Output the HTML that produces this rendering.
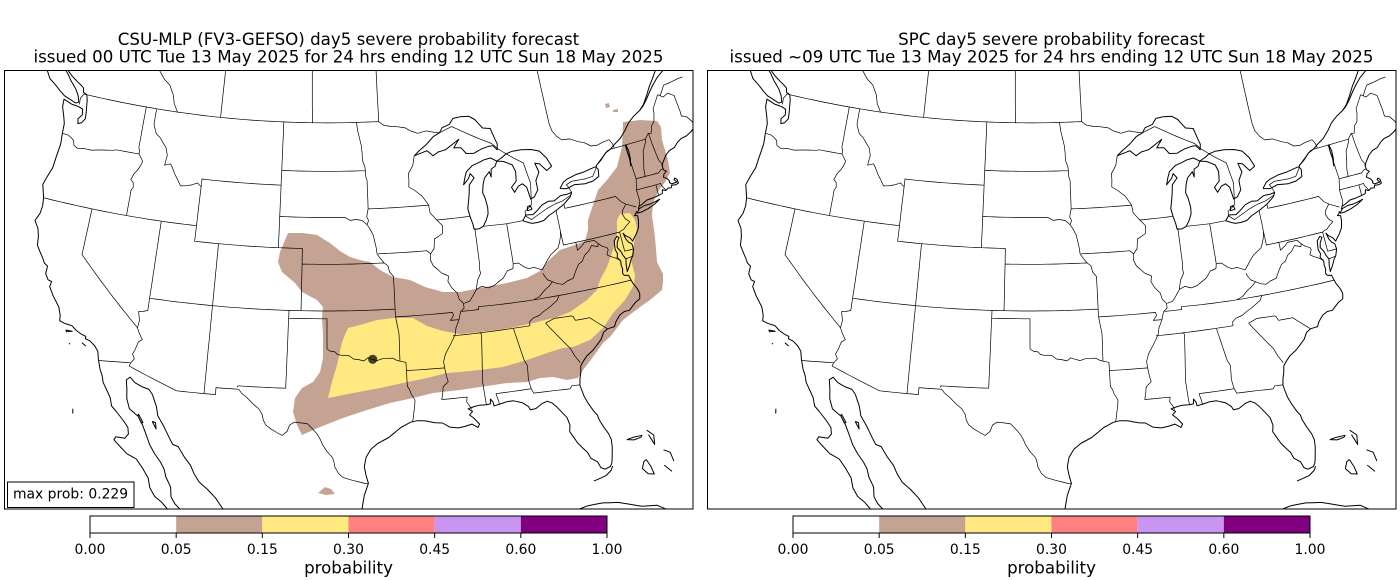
<!DOCTYPE html>
<html><head><meta charset="utf-8"><style>
html,body{margin:0;padding:0;background:#fff;}
svg{display:block;font-family:"DejaVu Sans","Liberation Sans",sans-serif;}
</style></head><body>
<svg id="s" width="1400" height="580" viewBox="0 0 1400 580" xmlns="http://www.w3.org/2000/svg">
<defs>
<clipPath id="cl"><rect x="4" y="70" width="689" height="439"/></clipPath>
<clipPath id="cr"><rect x="707" y="70" width="689" height="439"/></clipPath>
</defs>
<rect width="1400" height="580" fill="#fff"/>
<!-- LEFT PANEL -->
<g clip-path="url(#cl)">
<polygon fill="#c4a393" points="288,233 303,233 317,235 330,243 340,251 350,257 360,260 370,262 380,270 393,277 410,280 425,287 443,292 460,292 480,288 507,283 527,278 540,271 547,262 560,250 572,246 585,241 588,230 588,220 593,205 598,190 607,180 617,167 622,147 623,122 640,120 657,121 661,127 662,140 668,160 670,173 665,182 659,190 653,203 652,216 655,237 657,262 663,274 663,282 662,290 650,300 640,307 623,320 610,337 603,343 593,357 583,370 578,378 567,380 553,377 540,378 527,382 507,383 480,387 460,390 433,393 413,398 390,403 367,410 343,418 320,427 302,435 297,425 293,412 295,398 302,388 313,382 320,372 323,358 323,335 322,318 323,307 317,300 302,292 295,283 282,272 278,262 280,252"/>
<polygon fill="#ffe980" points="348,328 360,325 377,320 393,318 413,318 427,326 443,331 460,334 480,332 510,328 533,323 557,317 570,312 587,300 597,290 600,280 607,267 613,250 617,233 617,220 620,214 630,213 635,220 637,229 634,243 631,260 635,275 634,285 625,300 613,313 603,328 590,340 573,347 563,348 550,352 527,360 503,367 480,370 460,372 447,373 427,378 403,383 380,388 353,393 328,398 332,382 337,365 342,342"/>
<polygon fill="#c4a393" points="318,493 325,487 331,489 335,494 326,495"/>
<polygon fill="#c4a393" points="605,104 609,103 610,107 606,108"/>
<polygon fill="#c4a393" points="613,110 618,109 618,112 613,112"/>
<g id="maplines">
<path id="coast" fill="none" stroke="#000" stroke-width="1" stroke-linejoin="round"/>
<path id="bord" fill="none" stroke="#000" stroke-width="0.7" stroke-linejoin="round"/>
</g>
<circle cx="372.7" cy="359.3" r="4.6" fill="#000" fill-opacity="0.72"/>
</g>
<rect x="4.5" y="70.5" width="688.5" height="438.5" fill="none" stroke="#000" stroke-width="1"/>
<rect x="7.5" y="482" width="126.5" height="25.5" fill="#fff" stroke="#000" stroke-width="1"/>
<text x="13" y="498.5" font-size="13.9">max prob: 0.229</text>
<text x="348.5" y="45" font-size="16.67" text-anchor="middle">CSU-MLP (FV3-GEFSO) day5 severe probability forecast</text>
<text x="348.5" y="62.3" font-size="16.67" text-anchor="middle">issued 00 UTC Tue 13 May 2025 for 24 hrs ending 12 UTC Sun 18 May 2025</text>

<!-- RIGHT PANEL -->
<g clip-path="url(#cr)">
<use href="#maplines" transform="translate(703,0)"/>
</g>
<rect x="707.5" y="70.5" width="688.5" height="438.5" fill="none" stroke="#000" stroke-width="1"/>
<text x="1051.5" y="45" font-size="16.67" text-anchor="middle">SPC day5 severe probability forecast</text>
<text x="1051.5" y="62.3" font-size="16.67" text-anchor="middle">issued ~09 UTC Tue 13 May 2025 for 24 hrs ending 12 UTC Sun 18 May 2025</text>

<!-- COLORBARS -->
<g id="cb1">
<rect x="90" y="516" width="86.17" height="17" fill="#ffffff"/>
<rect x="176.17" y="516" width="86.17" height="17" fill="#c4a393"/>
<rect x="262.33" y="516" width="86.17" height="17" fill="#ffe980"/>
<rect x="348.5" y="516" width="86.17" height="17" fill="#ff8080"/>
<rect x="434.67" y="516" width="86.17" height="17" fill="#c896f0"/>
<rect x="520.83" y="516" width="86.17" height="17" fill="#800080"/>
<rect x="90" y="516" width="517" height="17" fill="none" stroke="#000" stroke-width="1"/>
<g stroke="#000" stroke-width="1">
<line x1="90" y1="533" x2="90" y2="538"/><line x1="176.17" y1="533" x2="176.17" y2="538"/>
<line x1="262.33" y1="533" x2="262.33" y2="538"/><line x1="348.5" y1="533" x2="348.5" y2="538"/>
<line x1="434.67" y1="533" x2="434.67" y2="538"/><line x1="520.83" y1="533" x2="520.83" y2="538"/>
<line x1="607" y1="533" x2="607" y2="538"/>
</g>
<g font-size="13.9" text-anchor="middle">
<text x="90" y="554">0.00</text><text x="176.17" y="554">0.05</text><text x="262.33" y="554">0.15</text>
<text x="348.5" y="554">0.30</text><text x="434.67" y="554">0.45</text><text x="520.83" y="554">0.60</text>
<text x="607" y="554">1.00</text>
</g>
<text x="348.5" y="573.5" font-size="16.67" text-anchor="middle">probability</text>
</g>
<use href="#cb1" transform="translate(703,0)"/>
</svg>
<script>
(function(){
var D=Math.PI/180;
function P(lon,lat){
 var t=Math.tan(Math.PI/4+lat*D/2);
 var r=Math.pow(t,-0.6);
 var th=0.6*(lon+100)*D;
 return [327+1837*r*Math.sin(th), -875.2+1801*r*Math.cos(th)];
}
function dens(l){
 var out=[P(l[0][0],l[0][1])];
 for(var i=1;i<l.length;i++){
  var a=l[i-1][0],b=l[i-1][1],c=l[i][0],d=l[i][1];
  var n=Math.max(1,Math.ceil(Math.max(Math.abs(c-a),Math.abs(d-b))/0.5));
  for(var k=1;k<=n;k++){out.push(P(a+(c-a)*k/n,b+(d-b)*k/n));}
 }
 return out;
}
function toD(ls){
 return ls.map(function(l){return 'M'+dens(l).map(function(p){return p[0].toFixed(1)+' '+p[1].toFixed(1);}).join('L');}).join('');
}
var C=[
[[-123.3,48.42],[-123.55,48.33],[-124.1,48.45],[-124.75,48.6],[-125.2,48.8],[-125.8,49.1],[-126.5,49.4],[-126.9,49.8],[-127.5,50.1],[-128.1,50.5],[-128.4,50.8],[-127.5,50.7],[-126.5,50.5],[-125.5,50.3],[-125.0,50.0],[-124.5,49.6],[-123.9,49.2],[-123.5,48.8],[-123.3,48.42]],
[[-122.75,49.0],[-123.1,49.1],[-123.2,49.35],[-123.5,49.5],[-123.9,49.65],[-124.5,49.9],[-124.9,50.1],[-125.3,50.4],[-126.0,50.6],[-126.6,50.8],[-127.4,51.0],[-127.9,51.3]],
[[-122.75,49.0],[-122.6,48.7],[-122.5,48.3],[-122.4,47.9],[-122.35,47.5],[-122.6,47.2],[-122.9,47.1],[-123.0,47.4],[-122.7,47.7],[-122.8,48.05],[-123.2,48.15],[-123.9,48.2],[-124.7,48.38],[-124.65,47.9],[-124.3,47.3],[-124.1,46.9],[-124.05,46.3],[-123.95,45.6],[-124.05,44.6],[-124.1,44.0],[-124.35,43.4],[-124.55,42.8],[-124.2,42.0],[-124.1,41.5],[-124.15,41.0],[-124.4,40.45],[-124.0,40.0],[-123.8,39.5],[-123.7,38.95],[-123.0,38.2],[-122.8,37.95],[-122.5,37.8],[-122.5,37.3],[-122.2,36.95],[-121.9,36.9],[-121.95,36.55],[-121.5,36.0],[-120.9,35.4],[-120.65,34.9],[-120.6,34.55],[-120.2,34.45],[-119.6,34.4],[-119.2,34.15],[-118.8,34.0],[-118.4,33.9],[-118.4,33.75],[-118.0,33.65],[-117.6,33.4],[-117.3,33.1],[-117.15,32.6],[-116.9,32.0],[-116.65,31.6],[-116.5,31.2],[-116.1,30.7],[-115.8,30.3],[-115.6,29.8],[-115.2,29.5],[-114.6,29.0],[-114.2,28.6],[-114.1,28.2],[-114.3,27.9],[-114.95,27.9],[-115.05,27.7],[-114.5,27.3],[-114.0,26.95],[-113.3,26.7],[-112.8,26.2],[-112.3,25.6],[-112.1,25.0],[-111.7,24.5],[-111.2,24.2],[-110.5,23.6],[-110.0,22.9],[-109.5,23.1],[-109.45,23.5],[-109.8,23.8],[-110.3,24.2],[-110.6,24.6],[-110.7,25.2],[-111.1,25.8],[-111.3,26.3],[-111.6,26.7],[-112.1,27.2],[-112.5,27.7],[-112.9,28.4],[-113.2,28.9],[-113.6,29.4],[-114.3,29.8],[-114.6,30.4],[-114.7,31.0],[-114.85,31.6],[-114.6,31.8],[-114.2,31.5],[-113.6,31.3],[-113.1,31.2],[-112.8,30.9],[-112.4,30.2],[-112.2,29.6],[-111.7,29.0],[-111.2,28.3],[-110.9,27.9],[-110.5,27.8],[-110.0,27.2],[-109.5,26.7],[-109.2,26.2],[-108.8,25.7],[-108.2,25.3],[-107.6,24.8],[-107.0,24.1],[-106.5,23.5],[-106.0,22.9],[-105.6,22.4]],
[[-97.8,22.3],[-97.75,23.0],[-97.7,23.8],[-97.6,24.5],[-97.45,25.2],[-97.15,25.95],[-97.3,26.5],[-97.4,27.0],[-97.25,27.6],[-96.9,28.1],[-96.4,28.45],[-95.6,28.8],[-95.0,29.2],[-94.7,29.4],[-94.0,29.7],[-93.5,29.77],[-92.9,29.72],[-92.2,29.55],[-91.7,29.5],[-91.2,29.2],[-90.6,29.1],[-90.1,29.15],[-89.6,29.25],[-89.2,29.0],[-89.05,29.2],[-89.4,29.6],[-89.7,29.85],[-89.45,30.05],[-89.75,30.25],[-89.3,30.35],[-88.9,30.4],[-88.4,30.37],[-88.1,30.4],[-88.05,30.7],[-87.9,30.5],[-87.85,30.25],[-87.5,30.3],[-86.9,30.4],[-86.4,30.4],[-85.8,30.2],[-85.4,29.9],[-85.3,29.68],[-84.9,29.7],[-84.4,29.95],[-84.0,30.05],[-83.7,29.9],[-83.4,29.6],[-83.1,29.2],[-82.8,28.8],[-82.7,28.3],[-82.8,27.9],[-82.6,27.5],[-82.4,27.1],[-82.1,26.7],[-81.85,26.4],[-81.7,26.0],[-81.3,25.7],[-81.15,25.3],[-80.9,25.15],[-80.5,25.25],[-80.35,25.45],[-80.25,25.8],[-80.1,26.4],[-80.05,26.9],[-80.15,27.3],[-80.4,27.8],[-80.6,28.3],[-80.65,28.6],[-80.85,28.9],[-81.1,29.4],[-81.3,29.9],[-81.4,30.4],[-81.45,30.7],[-81.35,31.1],[-81.2,31.5],[-81.1,31.9],[-80.8,32.2],[-80.5,32.45],[-80.0,32.7],[-79.6,33.0],[-79.2,33.3],[-78.9,33.7],[-78.55,33.86],[-78.0,33.9],[-77.8,34.2],[-77.4,34.55],[-77.0,34.7],[-76.6,34.7],[-76.3,34.9],[-76.0,35.1],[-75.6,35.25],[-75.5,35.6],[-75.6,35.95],[-75.8,36.3],[-75.9,36.6],[-75.98,36.9]],
[[-75.98,36.9],[-76.3,36.95],[-76.4,37.1],[-76.3,37.4],[-76.35,37.6],[-76.3,37.9],[-76.5,38.2],[-76.4,38.4],[-76.5,38.7],[-76.45,39.0],[-76.4,39.25],[-76.1,39.5],[-75.95,39.4],[-76.2,39.1],[-76.3,38.8],[-76.1,38.5],[-76.0,38.2],[-75.85,37.95],[-75.95,37.6],[-76.0,37.15],[-75.7,37.5],[-75.5,37.8],[-75.25,38.05],[-75.05,38.45],[-75.08,38.8],[-75.3,38.95],[-75.45,39.2],[-75.55,39.6],[-75.4,39.4],[-75.1,39.2],[-74.95,38.95],[-74.8,39.1],[-74.5,39.35],[-74.2,39.7],[-74.05,40.1],[-74.0,40.45],[-74.25,40.5],[-74.05,40.65],[-74.0,40.75]],
[[-74.0,40.6],[-73.6,40.6],[-73.0,40.7],[-72.4,40.85],[-71.85,41.07],[-72.3,41.0],[-72.7,40.95],[-73.2,40.95],[-73.7,40.85],[-74.0,40.6]],
[[-73.8,40.85],[-73.66,41.0],[-73.3,41.1],[-72.9,41.25],[-72.4,41.27],[-71.85,41.32],[-71.5,41.38],[-71.4,41.6],[-71.2,41.5],[-71.1,41.5],[-70.9,41.6],[-70.65,41.55],[-70.55,41.7],[-70.2,41.65],[-69.95,41.7],[-69.95,41.95],[-70.1,42.08],[-70.2,42.0],[-70.05,41.8],[-70.5,41.78],[-70.65,41.9],[-70.6,42.0],[-70.75,42.2],[-71.0,42.35],[-70.85,42.55],[-70.6,42.65],[-70.8,42.8],[-70.8,43.1],[-70.6,43.3],[-70.2,43.65],[-69.8,43.85],[-69.3,43.95],[-68.9,44.2],[-68.5,44.35],[-68.0,44.4],[-67.5,44.55],[-67.2,44.7],[-67.0,44.9],[-67.05,45.1],[-66.7,45.1],[-66.1,45.3],[-65.5,45.55],[-64.8,45.85],[-64.5,46.0]],
[[-76.3,44.2],[-75.8,44.45],[-75.2,44.85],[-74.7,45.0],[-74.2,45.25],[-73.6,45.5],[-73.0,45.9],[-72.5,46.3],[-71.9,46.6],[-71.2,46.85],[-70.8,47.05],[-70.3,47.4],[-69.8,47.8],[-69.3,48.15],[-68.7,48.5],[-68.0,48.8],[-67.3,49.0],[-66.5,49.15],[-65.5,49.25]],
[[-71.2,46.85],[-70.7,47.15],[-70.2,47.6],[-69.7,48.1],[-69.2,48.5],[-68.6,49.0],[-68.0,49.3],[-67.3,49.35]],
[[-92.1,46.7],[-91.4,46.85],[-90.9,46.95],[-90.4,46.6],[-89.9,46.8],[-89.2,46.9],[-88.5,47.2],[-87.9,47.45],[-88.3,47.1],[-88.45,46.95],[-87.8,46.9],[-87.4,46.5],[-86.7,46.45],[-86.0,46.65],[-85.3,46.75],[-84.9,46.75],[-84.6,46.45],[-84.5,46.8],[-84.7,47.3],[-84.9,47.85],[-85.6,47.95],[-86.2,48.55],[-86.7,48.8],[-87.5,48.85],[-88.2,48.8],[-88.6,48.45],[-89.3,48.3],[-89.6,48.0],[-90.2,47.8],[-90.9,47.35],[-91.6,47.0],[-92.1,46.7]],
[[-87.6,41.65],[-87.2,41.63],[-86.8,41.76],[-86.5,42.1],[-86.25,42.5],[-86.2,42.9],[-86.3,43.5],[-86.45,43.9],[-86.3,44.4],[-86.1,44.8],[-85.6,45.15],[-85.5,44.8],[-85.4,45.3],[-85.0,45.45],[-84.8,45.75],[-85.3,46.0],[-85.9,45.95],[-86.5,45.8],[-87.0,45.7],[-87.6,45.35],[-87.8,45.0],[-88.0,44.55],[-87.5,44.9],[-87.3,45.2],[-87.0,44.9],[-87.5,44.5],[-87.6,44.0],[-87.75,43.5],[-87.9,43.0],[-87.8,42.5],[-87.65,42.0],[-87.6,41.65]],
[[-84.8,45.75],[-84.2,45.65],[-83.5,45.35],[-83.3,44.9],[-83.4,44.3],[-83.9,43.95],[-83.7,43.6],[-83.3,43.95],[-82.9,44.05],[-82.6,43.8],[-82.45,43.0],[-82.1,43.1],[-81.7,43.5],[-81.7,44.1],[-81.3,44.6],[-81.5,45.2],[-81.1,45.1],[-80.6,44.6],[-80.1,44.8],[-80.4,45.4],[-80.9,45.9],[-81.6,46.1],[-82.5,46.2],[-83.3,46.2],[-83.9,46.1],[-84.2,45.95],[-84.8,45.75]],
[[-83.45,41.73],[-83.0,41.55],[-82.7,41.45],[-82.2,41.45],[-81.7,41.5],[-81.2,41.75],[-80.5,41.98],[-79.76,42.27],[-79.1,42.65],[-78.9,42.9],[-79.3,42.85],[-79.9,42.85],[-80.5,42.6],[-81.0,42.65],[-81.6,42.5],[-82.1,42.2],[-82.5,42.0],[-83.1,42.05],[-83.45,41.73]],
[[-79.8,43.3],[-79.2,43.2],[-78.5,43.35],[-77.6,43.25],[-76.9,43.3],[-76.3,43.5],[-76.2,43.95],[-76.35,44.15],[-76.8,44.1],[-77.5,44.0],[-78.2,43.95],[-79.0,43.8],[-79.4,43.65],[-79.8,43.3]],
[[-82.9,42.3],[-82.5,42.35],[-82.6,42.6],[-82.85,42.55],[-82.9,42.3]],
[[-73.4,43.6],[-73.3,44.1],[-73.35,44.6],[-73.3,45.0],[-73.2,44.6],[-73.25,44.1],[-73.4,43.6]],
[[-79.0,26.7],[-78.5,26.58],[-78.0,26.65],[-77.9,26.75],[-78.5,26.75],[-79.0,26.7]],
[[-77.5,27.0],[-77.1,26.6],[-77.2,26.0],[-77.3,26.3],[-77.45,26.7]],
[[-78.0,25.2],[-77.8,24.7],[-77.7,24.2],[-78.1,24.3],[-78.4,24.7],[-78.2,25.1],[-78.0,25.2]],
[[-76.7,25.55],[-76.3,25.3],[-76.2,24.7]],
[[-76.9,24.6],[-76.5,24.1]],
[[-84.9,21.9],[-84.5,22.6],[-84.0,22.75],[-83.3,22.95],[-82.5,23.1],[-81.5,23.1],[-80.5,22.95],[-79.8,22.7],[-79.0,22.4],[-78.0,22.25],[-77.2,21.7]],
[[-81.8,24.55],[-81.3,24.65],[-80.9,24.75],[-80.5,25.0],[-80.35,25.25]],
[[-120.0,34.05],[-119.5,34.05],[-119.9,33.95],[-120.0,34.05]],
[[-118.6,33.45],[-118.3,33.3],[-118.5,33.4]],
[[-119.55,33.25],[-119.45,33.22]],
[[-118.3,29.2],[-118.25,28.9]],
[[-113.6,29.55],[-113.2,29.05],[-113.3,29.0],[-113.6,29.4],[-113.6,29.55]],
[[-112.55,29.2],[-112.2,28.75],[-112.3,29.15],[-112.55,29.2]]
];
var B=[
[[-123.2,48.3],[-123.25,48.7],[-123.0,49.0],[-95.15,49.0]],
[[-95.15,49.0],[-94.7,48.75],[-94.0,48.65],[-93.4,48.6],[-92.7,48.5],[-92.3,48.3],[-91.6,48.1],[-90.8,48.2],[-90.0,48.05],[-89.6,48.0],[-88.4,48.3],[-86.5,47.5],[-85.0,46.9],[-84.5,46.5],[-84.1,46.25],[-83.5,45.9],[-82.5,45.35],[-82.2,44.0],[-82.4,43.0],[-82.5,42.6],[-83.1,42.3],[-83.15,42.0],[-82.7,41.7],[-81.3,42.2],[-80.5,42.4],[-79.8,42.5],[-79.0,42.75],[-78.9,42.9],[-79.05,43.25],[-79.2,43.45],[-78.7,43.6],[-77.5,43.55],[-76.8,43.6],[-76.4,44.0],[-76.2,44.25],[-75.8,44.5],[-75.0,44.95],[-74.7,45.0],[-71.5,45.0],[-71.1,45.3],[-70.85,45.25],[-70.6,45.7],[-70.3,45.9],[-70.05,46.4],[-70.0,46.7],[-69.2,47.45],[-68.8,47.2],[-68.3,47.35],[-67.8,47.07],[-67.78,46.0],[-67.8,45.7],[-67.4,45.55],[-67.0,45.05]],
[[-114.07,49.0],[-114.5,49.5],[-114.7,50.0],[-115.2,50.6],[-115.8,50.9],[-116.3,51.3],[-117.0,51.8],[-117.5,52.3]],
[[-110,49],[-110,54]],
[[-101.37,49.0],[-101.45,52],[-101.5,54]],
[[-95.15,49.0],[-95.15,53]],
[[-74.35,45.0],[-74.4,45.3],[-74.6,45.6],[-75.2,45.55],[-75.8,45.45],[-76.3,45.5],[-76.8,45.8],[-77.3,45.95],[-78.0,46.25],[-78.7,46.3],[-79.1,46.6],[-79.4,47.0],[-79.5,47.5],[-79.52,48.5],[-79.52,52]],
[[-69.0,47.35],[-68.4,47.9],[-67.6,47.95],[-67.0,48.0],[-66.5,48.0]],
[[-117.12,32.53],[-114.72,32.72],[-114.81,32.5],[-111.07,31.33],[-108.21,31.33],[-108.21,31.78],[-106.53,31.78]],
[[-106.53,31.78],[-106.3,31.55],[-105.9,31.3],[-105.4,30.9],[-104.95,30.6],[-104.7,30.25],[-104.6,29.9],[-104.4,29.6],[-104.0,29.35],[-103.6,29.15],[-103.2,28.98],[-102.85,29.25],[-102.7,29.65],[-102.35,29.85],[-101.8,29.8],[-101.4,29.75],[-101.0,29.4],[-100.7,29.1],[-100.5,28.8],[-100.3,28.4],[-100.0,28.0],[-99.6,27.6],[-99.5,27.3],[-99.45,27.0],[-99.2,26.6],[-98.9,26.35],[-98.4,26.2],[-97.8,26.05],[-97.4,25.95],[-97.15,25.95]],
[[-124.0,46.27],[-123.5,46.25],[-123.2,46.15],[-122.9,46.0],[-122.78,45.7],[-122.4,45.57],[-121.9,45.65],[-121.2,45.65],[-120.6,45.75],[-119.9,45.85],[-119.25,45.93],[-118.98,46.0],[-116.92,46.0]],
[[-117.04,49.0],[-117.04,46.43],[-116.92,46.17],[-116.92,46.0]],
[[-116.92,46.0],[-116.48,45.58],[-116.6,45.3],[-116.78,45.0],[-117.05,44.7],[-117.22,44.3],[-116.97,44.15],[-116.9,43.85],[-117.03,43.65],[-117.03,42.0]],
[[-124.21,42.0],[-111.05,42.0]],
[[-120.0,42.0],[-120.0,39.0],[-114.63,35.0]],
[[-114.63,35.0],[-114.57,35.5],[-114.7,35.9],[-114.74,36.05],[-114.4,36.1],[-114.05,36.2],[-114.05,37.0]],
[[-114.63,35.0],[-114.45,34.7],[-114.13,34.3],[-114.4,34.1],[-114.55,33.6],[-114.7,33.3],[-114.5,33.0],[-114.72,32.72]],
[[-114.05,42.0],[-114.05,37.0]],
[[-114.05,37.0],[-94.62,37.0]],
[[-109.05,37.0],[-109.05,31.33]],
[[-109.05,41.0],[-109.05,37.0]],
[[-111.05,42.0],[-111.05,41.0],[-102.05,41.0]],
[[-102.05,41.0],[-102.05,37.0]],
[[-102.05,40.0],[-95.31,40.0]],
[[-103.0,37.0],[-103.06,32.0],[-106.62,32.0],[-106.62,31.9]],
[[-103.0,36.5],[-100.0,36.5],[-100.0,34.56]],
[[-100.0,34.56],[-99.7,34.4],[-99.4,34.37],[-99.2,34.2],[-98.9,34.15],[-98.6,34.15],[-98.3,34.1],[-98.0,33.9],[-97.6,33.85],[-97.2,33.75],[-96.9,33.95],[-96.6,33.85],[-96.2,33.75],[-95.8,33.86],[-95.4,33.87],[-95.0,33.86],[-94.7,33.7],[-94.48,33.64],[-94.04,33.55]],
[[-94.62,36.5],[-94.43,35.4],[-94.48,33.64]],
[[-94.04,33.55],[-94.04,31.99],[-93.9,31.8],[-93.8,31.5],[-93.55,31.1],[-93.6,30.7],[-93.7,30.3],[-93.75,30.0],[-93.84,29.7]],
[[-94.04,33.02],[-91.16,33.0]],
[[-116.05,49.0],[-116.05,48.0],[-115.7,47.45],[-115.3,47.25],[-114.9,46.9],[-114.6,46.65],[-114.4,46.2],[-114.5,45.56],[-114.0,45.7],[-113.8,45.5],[-113.45,45.05],[-113.2,44.8],[-112.85,44.4],[-112.4,44.45],[-111.9,44.55],[-111.4,44.72],[-111.05,44.5]],
[[-111.05,44.5],[-111.05,42.0]],
[[-111.05,44.5],[-111.05,45.0],[-104.05,45.0]],
[[-104.05,49.0],[-104.05,41.0]],
[[-104.05,45.94],[-96.56,45.94]],
[[-104.05,43.0],[-98.5,43.0],[-98.0,42.8],[-97.5,42.85],[-97.0,42.77],[-96.6,42.5]],
[[-97.23,49.0],[-97.15,48.5],[-97.0,48.0],[-96.85,47.5],[-96.8,47.0],[-96.8,46.6],[-96.6,46.2],[-96.56,45.94]],
[[-96.56,45.94],[-96.56,45.6],[-96.45,45.3],[-96.45,43.5]],
[[-96.45,43.5],[-96.6,43.0],[-96.45,42.75],[-96.6,42.5]],
[[-96.45,43.5],[-91.22,43.5]],
[[-96.6,42.5],[-96.35,42.2],[-96.1,41.8],[-96.0,41.4],[-95.9,41.0],[-95.85,40.6],[-95.6,40.3],[-95.31,40.0]],
[[-95.31,40.0],[-95.0,39.8],[-94.9,39.4],[-94.6,39.1],[-94.62,37.0],[-94.62,36.5]],
[[-94.62,36.5],[-90.15,36.5],[-90.08,36.3],[-90.37,36.0],[-89.7,36.0]],
[[-95.77,40.6],[-91.73,40.6],[-91.42,40.38]],
[[-92.1,46.7],[-92.3,46.1],[-92.75,45.6],[-92.75,45.2],[-92.8,44.75],[-92.3,44.5],[-91.7,44.1],[-91.22,43.5]],
[[-91.22,43.5],[-91.15,43.0],[-90.65,42.5],[-90.2,42.1],[-90.3,41.6],[-91.0,41.3],[-91.1,40.7],[-91.42,40.38],[-91.5,40.0],[-91.3,39.6],[-90.7,39.1],[-90.15,38.85],[-90.25,38.5],[-90.0,38.1],[-89.6,37.7],[-89.5,37.3],[-89.2,37.0],[-89.2,36.7],[-89.5,36.5],[-89.7,36.0],[-90.0,35.5],[-90.1,35.1],[-90.3,34.8],[-90.6,34.4],[-91.0,33.9],[-91.2,33.4],[-91.16,33.0],[-91.1,32.5],[-91.0,32.1],[-91.4,31.8],[-91.5,31.3],[-91.6,31.0]],
[[-91.6,31.0],[-89.73,31.0],[-89.8,30.7],[-89.6,30.4],[-89.5,30.18]],
[[-90.64,42.5],[-87.8,42.5]],
[[-87.53,41.7],[-87.53,39.35],[-87.6,39.1],[-87.55,38.8],[-87.85,38.4],[-88.0,38.0],[-88.05,37.8]],
[[-89.15,37.0],[-88.7,37.1],[-88.4,37.4],[-88.05,37.8],[-87.6,37.95],[-87.1,37.8],[-86.6,37.9],[-86.2,38.1],[-85.8,38.28],[-85.4,38.7],[-84.9,38.8],[-84.82,39.1],[-84.4,39.1],[-84.0,38.8],[-83.65,38.63],[-83.2,38.65],[-82.6,38.4],[-82.25,38.75],[-82.0,39.0],[-81.7,39.25],[-81.4,39.4],[-81.0,39.6],[-80.8,39.9],[-80.6,40.3],[-80.52,40.64]],
[[-84.82,41.7],[-84.82,39.1]],
[[-86.82,41.76],[-84.8,41.7],[-83.45,41.73]],
[[-80.52,41.98],[-80.52,39.72],[-75.79,39.72]],
[[-89.42,36.5],[-88.07,36.5],[-88.07,36.68],[-86.5,36.64],[-85.0,36.62],[-83.68,36.6]],
[[-83.68,36.6],[-83.2,36.75],[-82.7,37.1],[-82.3,37.3],[-81.97,37.54],[-82.3,37.7],[-82.45,37.9],[-82.6,38.17]],
[[-83.68,36.6],[-81.68,36.59],[-75.87,36.55]],
[[-81.68,36.59],[-81.9,36.3],[-82.3,36.1],[-82.6,35.95],[-83.1,35.75],[-83.5,35.55],[-84.0,35.45],[-84.3,35.25],[-84.32,35.0],[-90.3,35.0]],
[[-81.97,37.54],[-81.6,37.35],[-81.2,37.25],[-80.8,37.4],[-80.3,37.5],[-80.0,37.9],[-79.65,38.3],[-79.3,38.45],[-79.0,38.8],[-78.6,39.0],[-78.3,39.3],[-77.8,39.15],[-77.72,39.32]],
[[-77.72,39.32],[-78.0,39.6],[-78.4,39.6],[-78.8,39.6],[-79.0,39.45],[-79.48,39.2],[-79.48,39.72]],
[[-77.72,39.32],[-77.45,39.1],[-77.1,38.95],[-77.05,38.8],[-77.25,38.5],[-77.0,38.35],[-76.7,38.2],[-76.3,37.95]],
[[-75.79,39.72],[-75.79,38.45],[-75.05,38.45]],
[[-75.79,39.72],[-75.6,39.8],[-75.4,39.83]],
[[-75.87,37.95],[-75.24,38.03]],
[[-75.4,39.83],[-75.15,40.0],[-74.75,40.2],[-75.05,40.45],[-75.2,40.8],[-75.1,41.0],[-74.7,41.36],[-75.05,41.6],[-75.36,42.0],[-79.76,42.0],[-79.76,42.27]],
[[-74.7,41.36],[-73.9,41.0]],
[[-73.66,41.0],[-73.5,41.3],[-73.5,42.05],[-73.26,42.75],[-73.3,43.6],[-73.35,44.5],[-73.35,45.0]],
[[-73.5,42.05],[-71.8,42.02],[-71.38,42.02],[-71.38,41.9],[-71.12,41.5]],
[[-71.8,42.02],[-71.85,41.32]],
[[-73.26,42.75],[-72.46,42.73],[-71.3,42.7],[-71.0,42.85],[-70.8,42.87]],
[[-72.46,42.73],[-72.4,43.2],[-72.2,43.7],[-72.0,44.3],[-71.5,44.9],[-71.5,45.01]],
[[-70.7,43.08],[-70.95,43.5],[-71.0,44.0],[-71.05,44.6],[-71.08,45.3]],
[[-88.2,35.0],[-88.1,34.9],[-88.47,31.9],[-88.4,30.38]],
[[-85.61,35.0],[-85.18,32.87],[-85.0,32.5],[-85.05,32.0],[-85.1,31.6],[-85.0,31.0]],
[[-85.0,31.0],[-87.6,31.0],[-87.5,30.6],[-87.45,30.3]],
[[-85.0,31.0],[-84.87,30.7],[-83.5,30.65],[-82.2,30.57],[-82.05,30.75],[-81.45,30.71]],
[[-83.1,35.0],[-82.8,34.6],[-82.4,34.1],[-82.0,33.6],[-81.6,33.1],[-81.4,32.6],[-81.1,32.1]],
[[-83.1,35.0],[-82.4,35.2],[-81.05,35.15],[-80.93,35.1],[-80.8,34.82],[-79.7,34.8],[-78.55,33.86]]
];
document.getElementById('coast').setAttribute('d',toD(C));
document.getElementById('bord').setAttribute('d',toD(B));
})();
</script>
</body></html>
